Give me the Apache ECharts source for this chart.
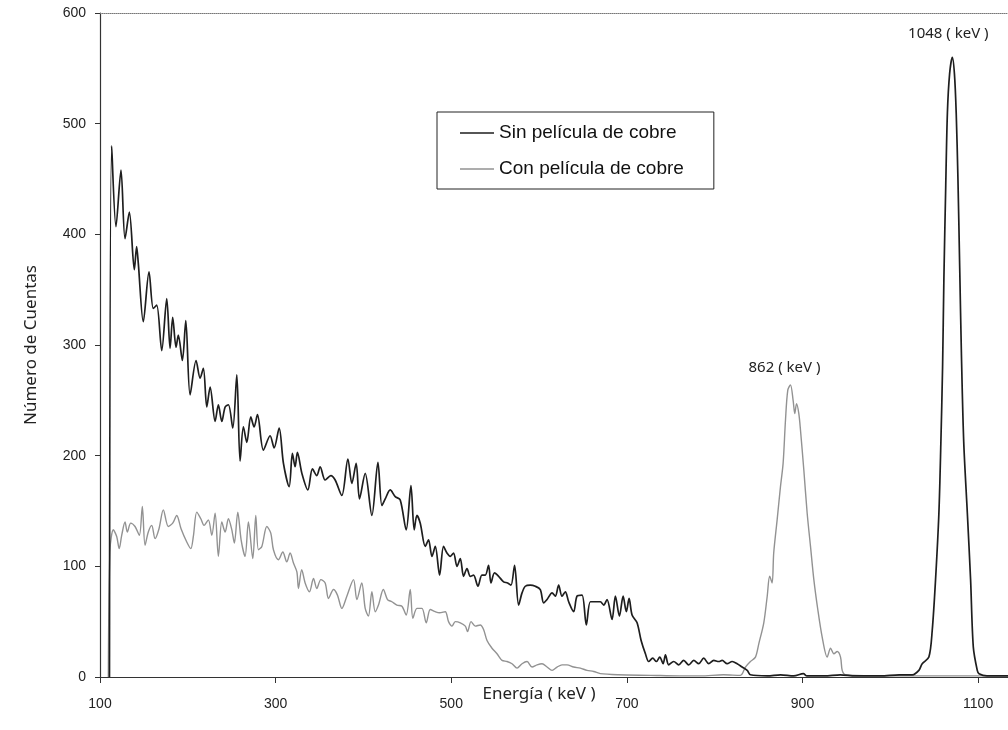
<!DOCTYPE html>
<html>
<head>
<meta charset="utf-8">
<script src="https://cdn.jsdelivr.net/npm/echarts@6/dist/echarts.min.js"></script>
<style>
  html, body { margin: 0; padding: 0; background: #fff; }
  #chart { width: 1008px; height: 730px; }
</style>
</head>
<body>
<div id="chart"></div>
<script>
// espectro sin película de cobre (keV, cuentas)
const sinEnergy = [110.8,113.3,118.2,123.9,128.5,133.4,139.1,141.7,143.6,149.3,155.8,160.7,164.6,170.3,176.0,179.8,182.8,186.6,189.2,193.8,197.7,202.6,209.4,214.0,217.7,221.6,225.4,231.1,234.8,238.7,242.5,246.2,251.2,255.8,259.5,263.3,267.2,271.7,275.5,279.3,286.1,293.7,298.3,304.0,308.9,315.4,319.1,322.2,324.8,329.9,336.7,341.9,346.9,350.7,356.4,362.9,367.8,375.4,382.3,386.8,391.7,395.5,402.0,409.6,416.5,421.0,424.8,430.5,436.2,441.9,448.7,454.1,457.8,460.9,464.7,470.4,474.1,478.0,481.8,486.7,491.2,495.1,498.9,502.6,506.5,510.3,514.0,517.9,521.7,525.4,530.4,534.9,538.7,542.5,545.2,549.3,553.9,559.6,564.2,568.0,572.1,576.7,580.6,584.3,590.0,595.7,601.4,605.2,609.1,614.8,618.5,622.3,626.1,629.9,633.7,639.4,643.2,648.9,653.8,658.4,664.1,669.8,673.6,677.4,683.1,686.9,691.5,695.7,699.4,702.5,705.9,711.6,716.2,721.1,724.8,729.4,733.6,737.4,741.3,743.9,747.6,753.3,759.0,764.7,770.4,776.1,781.8,787.5,793.2,798.9,804.6,808.5,814.2,819.9,825.6,831.3,837.0,840.7,860,875,890,901,905,925,943,960,989,1010,1025,1032.5,1036.3,1043.9,1047.7,1051.5,1055.3,1057.5,1059.5,1061,1063,1065,1067.5,1070.6,1073,1075,1077,1079,1081,1083.6,1087.7,1091.4,1094.5,1099,1101,1110,1134];
const sinCounts = [0,480,407,458,396,420,368,389,374,321,366,333,336,295,342,297,325,298,309,286,322,255,286,270,279,244,262,231,246,231,244,246,225,273,195,226,212,235,226,237,205,218,207,225,193,172,202,190,203,184,169,188,182,190,178,182,178,164,197,175,193,161,184,146,194,155,161,169,163,160,133,173,133,146,139,118,124,109,118,92,118,112,109,112,100,107,91,98,91,92,82,92,92,101,85,94,91,86,85,83,101,65,76,82,83,82,79,67,70,76,73,83,73,77,68,59,73,74,47,68,68,68,65,70,52,73,55,73,59,71,56,49,33,21,14,17,14,18,12,20,11,14,11,15,11,15,12,17,12,15,14,15,12,14,12,9,6,2,1,2,1,3,1,1,2,1,1,2,2,6,12,18,42,88,148,210,280,360,440,510,545,560,545,510,450,370,290,212,148,88,27,6,3,1,1];

// espectro con película de cobre
const conEnergy = [109.5,111.4,115.2,119.0,121.9,124.7,128.5,131.1,135.0,139.9,144.8,148.2,151.3,155.0,158.9,162.7,167.2,172.1,177.8,182.8,187.4,192.3,198.8,203.4,206.3,210.2,214.8,218.5,223.4,227.3,231.1,234.8,238.7,242.5,246.2,250.1,253.0,256.9,260.7,265.2,269.0,274.0,277.4,280.4,284.3,290.0,294.5,297.5,303.2,308.2,312.7,316.5,320.3,324.2,326.0,329.7,333.6,338.5,343.1,346.9,351.5,356.4,360.2,365.9,370.4,375.4,381.1,388.7,392.5,398.1,402.0,405.7,409.6,413.4,417.1,422.7,427.4,432.4,438.1,443.8,448.7,453.3,456.3,460.9,466.6,471.5,476.1,481.8,486.7,493.2,496.9,500.8,504.6,510.3,516.0,518.6,522.5,527.4,533.0,536.8,540.7,546.4,552.1,557.8,563.5,569.2,574.9,580.6,586.3,592.0,597.7,603.4,609.1,614.8,620.5,626.1,631.8,639.4,647.0,654.6,662.2,669.8,690,726.8,760,783.8,810,829.3,835.0,840.7,846.4,850.2,855.9,859.8,862.6,865.4,867.2,871.1,874.9,877.9,880.6,883.2,886.3,889.3,891.2,893.2,895.8,897.7,901.5,905.3,909.1,912.9,917.4,922.4,928.1,931.9,935.7,939.5,943.3,945.2,949.0,980,1040,1134];
const conCounts = [0,115,133,127,116,128,140,131,139,136,128,154,119,131,137,125,134,151,136,139,146,134,122,116,127,149,143,137,142,128,148,109,140,131,143,133,121,149,124,109,140,107,146,115,118,136,130,115,106,113,104,112,103,95,80,97,85,77,89,80,88,85,71,79,74,62,73,88,70,85,62,55,77,59,65,79,70,68,65,64,56,79,53,62,62,49,61,59,58,59,50,46,50,49,46,41,50,46,47,43,33,26,21,15,14,12,8,12,14,9,11,12,9,6,9,11,11,9,8,6,5,3,2,1.5,1,1,2,1.5,9,14,18,30,49,73,91,85,112,142,172,193,232,259,264,250,238,247,238,223,187,148,118,88,61,36,18,26,21,23,18,6,2,1,1,1];

const seriesNames = ['Sin película de cobre', 'Con película de cobre'];
const peakLabels = ['1048 ( keV )', '862 ( keV )'];
const xTicks = [100, 1134, 200];
const yTicks = [0, 600, 100];

const toPairs = (xs, ys) => xs.map((x, i) => [x, ys[i]]);

const chart = echarts.init(document.getElementById('chart'));

const option = {
  backgroundColor: '#fff',
  animation: false,
  grid: { left: 100, right: 0, top: 13, bottom: 53 },
  legend: {
    orient: 'vertical',
    left: 437,
    top: 112,
    padding: [11, 30, 10, 23],
    itemGap: 16,
    itemWidth: 34,
    itemHeight: 1.5,
    icon: 'rect',
    borderColor: '#222',
    borderWidth: 1,
    textStyle: { fontFamily: 'Liberation Sans', fontSize: 19, color: '#111', lineHeight: 20 },
    data: seriesNames
  },
  xAxis: [{
    type: 'value',
    min: xTicks[0],
    max: xTicks[1],
    interval: xTicks[2],
    name: 'Energía ( keV )',
    nameLocation: 'middle',
    nameGap: 9,
    nameMoveOverlap: false,
    nameTextStyle: { fontFamily: 'Noto Sans', fontSize: 17, color: '#222', padding: [0, 30, 0, 0] },
    axisLine: { lineStyle: { color: '#333', width: 1.2 } },
    axisTick: { inside: false, length: 6, lineStyle: { color: '#333' } },
    axisLabel: {
      fontFamily: 'Liberation Sans', fontSize: 14, color: '#222', margin: 20,
      showMaxLabel: false, formatter: v => String(v)
    },
    splitLine: { show: false }
  }, {
    type: 'value',
    position: 'top',
    min: xTicks[0],
    max: xTicks[1],
    axisLine: { lineStyle: { color: '#777', type: 'dotted', width: 1 } },
    axisTick: { show: false },
    axisLabel: { show: false },
    splitLine: { show: false }
  }],
  yAxis: {
    type: 'value',
    min: yTicks[0],
    max: yTicks[1],
    interval: yTicks[2],
    name: 'Número de Cuentas',
    nameLocation: 'middle',
    nameGap: 60,
    nameMoveOverlap: false,
    nameTextStyle: { fontFamily: 'Noto Sans', fontSize: 17, color: '#222' },
    axisLine: { show: true, lineStyle: { color: '#333', width: 1.2 } },
    axisTick: { show: true, length: 5, lineStyle: { color: '#333' } },
    axisLabel: { fontFamily: 'Liberation Sans', fontSize: 14, color: '#222', margin: 14 },
    splitLine: { show: false }
  },
  series: [
    {
      name: seriesNames[0],
      type: 'line',
      symbol: 'none',
      smooth: 0.3,
      lineStyle: { color: '#1e1e1e', width: 1.7 },
      itemStyle: { color: '#1e1e1e' },
      data: toPairs(sinEnergy, sinCounts),
      markPoint: {
        symbol: 'circle',
        symbolSize: 0,
        label: {
          show: true, position: 'top', offset: [-4, -11],
          fontFamily: 'Noto Sans', fontSize: 15, color: '#222',
          formatter: peakLabels[0]
        },
        data: [{ type: 'max' }]
      },
      z: 3
    },
    {
      name: seriesNames[1],
      type: 'line',
      symbol: 'none',
      smooth: 0.3,
      lineStyle: { color: '#929292', width: 1.4 },
      itemStyle: { color: '#929292' },
      data: toPairs(conEnergy, conCounts),
      markPoint: {
        symbol: 'circle',
        symbolSize: 0,
        label: {
          show: true, position: 'top', offset: [-6, -5],
          fontFamily: 'Noto Sans', fontSize: 15, color: '#222',
          formatter: peakLabels[1]
        },
        data: [{ coord: [886.3, 264] }]
      },
      z: 2
    }
  ]
};

chart.setOption(option);
</script>
</body>
</html>
